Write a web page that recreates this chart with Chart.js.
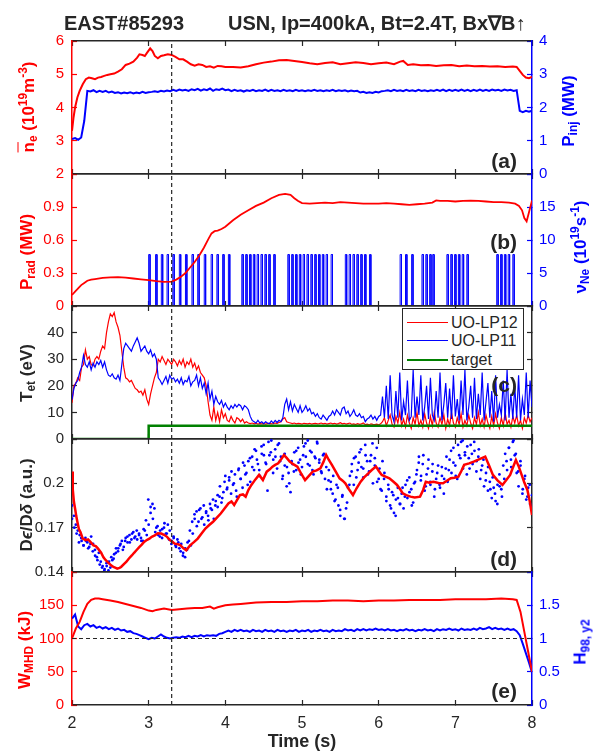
<!DOCTYPE html>
<html>
<head>
<meta charset="utf-8">
<script src="https://cdn.jsdelivr.net/npm/chart.js@4.4.0/dist/chart.umd.min.js"></script>
<style>
html,body{margin:0;padding:0;background:#fff;}
#wrap{position:relative;width:597px;height:752px;overflow:hidden;font-family:"Liberation Sans",Arial,Helvetica,sans-serif;color:#262626;}
#wrap canvas{position:absolute;left:0;top:0;}
.ttl{position:absolute;white-space:nowrap;font-weight:bold;font-size:20px;transform:translateY(-50%);line-height:1;}
.yl{position:absolute;white-space:nowrap;font-weight:bold;font-size:17px;line-height:1;transform:translate(-50%,-50%) rotate(-90deg);}
.yl sub{font-size:70%;vertical-align:-0.3em;line-height:0;}
.yl sup{font-size:70%;vertical-align:0.55em;line-height:0;}
.ol{text-decoration:overline;}
.pl{position:absolute;white-space:nowrap;font-weight:bold;font-size:21px;line-height:1;transform:translate(-100%,-50%);}
.xl{position:absolute;white-space:nowrap;font-weight:bold;font-size:18px;line-height:1;transform:translate(-50%,-50%);}
#leg{position:absolute;left:402px;top:308px;width:120px;height:60px;border:1px solid #262626;background:#fff;}
#leg .row{position:absolute;left:0;height:18px;width:120px;}
#leg .ln{position:absolute;left:4px;width:41px;top:8px;height:0;}
#leg .tx{position:absolute;left:48px;top:0;font-size:16px;line-height:18px;}
</style>
</head>
<body>
<div id="wrap">
<canvas id="ca" width="597" height="752"></canvas>
<canvas id="cb" width="597" height="752"></canvas>
<canvas id="cc" width="597" height="752"></canvas>
<canvas id="cd" width="597" height="752"></canvas>
<canvas id="ce" width="597" height="752"></canvas>

<div class="ttl" style="left:64px;top:23px;">EAST#85293</div>
<div class="ttl" style="left:228px;top:23px;">USN, Ip=400kA, Bt=2.4T, Bx∇B↑</div>

<div class="yl" style="left:28px;top:107px;color:#ff0000;"><span class="ol">n</span><sub>e</sub> (10<sup>19</sup>m<sup>-3</sup>)</div>
<div class="yl" style="left:568px;top:111px;color:#0000ff;">P<sub>inj</sub> (MW)</div>
<div class="yl" style="left:26px;top:252px;color:#ff0000;">P<sub>rad</sub> (MW)</div>
<div class="yl" style="left:580px;top:247px;color:#0000ff;">ν<sub>Ne</sub> (10<sup>19</sup>s<sup>-1</sup>)</div>
<div class="yl" style="left:26px;top:373px;color:#262626;">T<sub>et</sub> (eV)</div>
<div class="yl" style="left:26px;top:505px;color:#262626;">D<i>ϵ</i>/D<i>δ</i> (a.u.)</div>
<div class="yl" style="left:24px;top:650px;color:#ff0000;">W<sub>MHD</sub> (kJ)</div>
<div class="yl" style="left:580px;top:642px;color:#0000ff;">H<sub>98, y2</sub></div>

<div class="pl" style="left:517px;top:160px;">(a)</div>
<div class="pl" style="left:517px;top:241px;">(b)</div>
<div class="pl" style="left:517px;top:384px;">(c)</div>
<div class="pl" style="left:517px;top:558px;">(d)</div>
<div class="pl" style="left:517px;top:690px;">(e)</div>

<div class="xl" style="left:302px;top:741px;">Time (s)</div>

<div id="leg">
  <div class="row" style="top:5px;"><div class="ln" style="border-top:1.5px solid #ff0000;"></div><div class="tx">UO-LP12</div></div>
  <div class="row" style="top:23px;"><div class="ln" style="border-top:1.5px solid #0000ff;"></div><div class="tx">UO-LP11</div></div>
  <div class="row" style="top:42px;"><div class="ln" style="border-top:2.5px solid #008000;"></div><div class="tx">target</div></div>
</div>
</div>

<script>
// ---------------- DATA ----------------
const TIME_MIN = 2, TIME_MAX = 8;
const MARKER_T = 3.3;          // vertical dashed marker (s)
const H98_REF = 1;             // horizontal dashed reference

// (a) line-averaged density (1e19 m^-3)
const NE_T = [2.0,2.02,2.04,2.07,2.1,2.14,2.18,2.22,2.26,2.3,
  2.34,2.38,2.42,2.46,2.5,2.55,2.6,2.65,2.7,2.75,
  2.8,2.85,2.88,2.92,2.95,2.98,3.02,3.05,3.08,3.12,
  3.16,3.2,3.25,3.3,3.35,3.4,3.45,3.5,3.55,3.6,
  3.65,3.7,3.75,3.8,3.85,3.9,3.95,4.0,4.1,4.2,
  4.3,4.4,4.5,4.6,4.7,4.8,4.9,5.0,5.1,5.2,
  5.3,5.4,5.5,5.6,5.7,5.8,5.9,6.0,6.1,6.2,
  6.28,6.32,6.38,6.45,6.55,6.65,6.75,6.85,6.95,7.05,
  7.15,7.25,7.35,7.45,7.55,7.65,7.75,7.8,7.84,7.88,
  7.92,7.96,8.0];
const NE_V = [3.3,3.7,4.0,4.3,4.5,4.7,4.85,4.9,4.88,4.85,
  4.9,4.92,4.95,4.98,5.0,5.02,5.08,5.15,5.28,5.32,
  5.38,5.5,5.6,5.58,5.55,5.65,5.78,5.7,5.55,5.48,
  5.55,5.57,5.6,5.58,5.52,5.45,5.45,5.38,5.3,5.26,
  5.3,5.28,5.22,5.24,5.2,5.25,5.24,5.22,5.22,5.2,
  5.24,5.3,5.35,5.38,5.42,5.43,5.4,5.37,5.33,5.3,
  5.34,5.36,5.3,5.33,5.36,5.34,5.3,5.33,5.35,5.3,
  5.38,5.4,5.28,5.3,5.27,5.28,5.25,5.27,5.28,5.24,
  5.26,5.24,5.25,5.23,5.24,5.22,5.23,5.22,5.1,4.98,
  4.9,4.88,4.92];

// (a) injected power (MW), sampled evenly over 2..8 s
const PINJ_V = [1.05,1.08,1.03,1.1,1.6,2.5,2.48,2.52,2.46,2.5,
  2.47,2.5,2.45,2.48,2.44,2.46,2.42,2.45,2.43,2.46,
  2.42,2.45,2.43,2.47,2.44,2.46,2.47,2.49,2.47,2.5,
  2.48,2.51,2.49,2.53,2.5,2.54,2.51,2.53,2.5,2.55,
  2.52,2.56,2.51,2.55,2.52,2.57,2.5,2.55,2.53,2.57,
  2.52,2.54,2.49,2.53,2.5,2.52,2.48,2.52,2.5,2.53,
  2.49,2.52,2.5,2.54,2.49,2.53,2.5,2.52,2.49,2.53,
  2.5,2.52,2.49,2.53,2.5,2.52,2.49,2.52,2.5,2.53,
  2.5,2.52,2.49,2.52,2.5,2.53,2.49,2.52,2.5,2.52,
  2.48,2.51,2.49,2.5,2.45,2.47,2.44,2.46,2.44,2.47,
  2.45,2.49,2.5,2.52,2.49,2.53,2.5,2.52,2.49,2.53,
  2.5,2.52,2.49,2.53,2.5,2.52,2.49,2.52,2.5,2.53,
  2.5,2.54,2.49,2.53,2.5,2.53,2.5,2.54,2.5,2.53,
  2.49,2.53,2.5,2.54,2.5,2.53,2.5,2.54,2.51,2.53,
  2.5,2.54,2.51,2.53,2.5,2.52,1.9,1.86,1.9,1.87,
  1.9];

// (b) radiated power (MW)
const PRAD_T = [2.0,2.04,2.08,2.12,2.16,2.2,2.25,2.3,2.4,2.5,
  2.6,2.7,2.8,2.9,3.0,3.1,3.2,3.3,3.36,3.42,
  3.48,3.54,3.6,3.66,3.72,3.78,3.82,3.86,3.9,3.95,
  4.0,4.1,4.2,4.3,4.4,4.5,4.6,4.7,4.78,4.85,
  4.9,4.95,5.0,5.1,5.2,5.3,5.4,5.5,5.6,5.7,
  5.8,5.9,6.0,6.1,6.2,6.3,6.4,6.5,6.6,6.7,
  6.75,6.8,6.9,7.0,7.1,7.2,7.3,7.4,7.5,7.6,
  7.7,7.78,7.83,7.87,7.9,7.93,7.96,8.0];
const PRAD_V = [0.10,0.13,0.16,0.19,0.21,0.23,0.24,0.245,0.255,0.26,
  0.262,0.258,0.25,0.242,0.235,0.226,0.22,0.222,0.24,0.265,
  0.3,0.35,0.4,0.46,0.53,0.61,0.66,0.68,0.685,0.7,
  0.72,0.78,0.83,0.87,0.91,0.94,0.98,1.01,1.02,1.01,
  0.98,0.955,0.935,0.93,0.935,0.94,0.935,0.945,0.94,0.935,
  0.93,0.93,0.93,0.935,0.93,0.925,0.92,0.925,0.93,0.94,
  0.96,0.955,0.955,0.95,0.955,0.958,0.955,0.95,0.945,0.945,
  0.94,0.93,0.91,0.87,0.8,0.77,0.85,0.96];

// (b) Ne puffing pulses: start times (s), rate (1e19 s^-1), pulse width (s)
const NE_PULSE_T = [3.0,3.09,3.165,3.24,3.315,3.4,3.48,3.565,3.64,3.725,3.815,3.89,3.965,4.04,
  4.215,4.265,4.315,4.365,4.415,4.465,4.515,4.565,4.63,
  4.815,4.865,4.915,4.965,5.015,5.065,5.115,5.165,5.215,5.265,5.315,5.38,
  5.565,5.615,5.665,5.715,5.765,5.815,5.88,
  6.28,6.35,6.43,
  6.565,6.615,6.665,6.705,
  6.89,6.94,6.99,7.04,7.09,7.15,
  7.54,7.59,7.64,7.69,7.75];
const NE_PULSE_RATE = 7.8;
const NE_PULSE_W = 0.018;

// (c) target electron temperature (eV), sampled evenly over 2..8 s
const TET_LP12 = [13.6,20,21,23,22,27,28,33.5,30,31,
  28,27.5,30,31,30,33,35,34,40,44,
  47,46,47.5,44,42,39,33,27,23,22.5,
  21.5,22,20.5,19,18.5,17.5,18,16.5,18.5,15,
  13,17,20,23,25,30,29,31,29.5,28,
  30,29,28,30,29,27.5,29.5,28,30,27,
  29,28,30,27,28.5,26,27.5,25,24,23,
  20,14,9,7,12,7,10,6.5,11,8,
  9.5,7,6.5,8.5,7,6,8,7.5,6.5,7.5,
  6,6.5,6,5.8,6,5.7,5.9,5.6,5.8,5.7,
  5.8,5.6,5.8,5.9,5.7,5.8,6,5.9,6.2,6.5,
  7.5,8,6.5,6.2,6,5.8,6,5.7,5.9,5.8,
  5.6,5.9,5.8,5.7,5.9,5.6,5.8,5.9,5.7,5.8,
  6,5.7,5.9,5.6,5.8,6,5.7,5.9,5.6,5.8,
  6.1,5.7,5.9,5.6,5.8,6,5.5,5.7,5.4,5.8,
  5.5,5.7,6,5.4,5.6,5.3,5.7,5.5,5.4,5.6,
  5.3,5.7,6.5,8,5,7,9,5.5,4.5,8.5,
  6,10,5,7.5,4.5,9,6,4,8,5.5,
  10,5,7,4.5,9.5,6,4,8.5,5,10,
  6,4.5,8,5.5,9,4,7.5,5,10,6,
  4.5,8,5.5,9.5,4.5,7,5,9,6,4,
  8,5.5,10,5,7.5,4.5,9,6,4,8.5,
  5,9.5,6,4,8,5,10,5.5,7,4.5,
  8.5,6,9,5,7,4,8,6,9,6.5,
  8];
const TET_LP11 = [14.8,19,21,22,25,27,31.5,28,27,29,
  26,28.5,27,29,28,29.5,27,29,26,24,
  23.5,24.5,23,22.5,24,22,28,34,36,35,
  34,33,35,36.5,38,36,33,34,35,33,
  32,33.5,31,32,30,23,22,20.5,22,23.5,
  21,24,22.5,23,21.5,22.5,21,23,20.5,22,
  21.5,23.5,20,21.5,22,24,20,23,19,21,
  17,21,15,18,13,16,14,13,14.5,12,
  13.5,12,11,12.5,11.5,13,12,13,12.5,11,
  12.5,12,11,8.5,7,6.5,6,7,6,6.5,
  5.8,6.5,6,5.8,6.8,6,7,6.2,7,6.5,
  8,13,15,11,14,10.5,13,11.5,10,12.5,
  10,11,12.5,10.5,11.5,9.5,10,8.5,9.5,8,
  7.5,9,8,7,8.5,9,10.5,9,11,10,
  9,11.5,12,9.5,10.5,8.5,9.5,11,9,8.5,
  9.5,8,8.5,6.5,7.5,8,9,7.5,8.5,7,
  8.5,9,16,8,20,7.5,24,9,6.5,18,
  8,25,7,14,9,22,7,8.5,26,8,
  16,9,24,7,12,20,7.5,23,9,7,
  18,8,25,7,13,21,8,19,7.5,24,
  8.5,15,7,22,9,26,7,12,20,8,
  23,7.5,17,9,25,7,14,21,8,18,
  6.5,24,8,13,9,22,7,26,8,17,
  7.5,20,8,24,7,15,9,25,8,22,
  12];
const TARGET_T = [2, 3, 3, 8];
const TARGET_V = [0, 0, 5, 5];

// (d) D-epsilon / D-delta (a.u.): smoothed line
const DR_T = [2.0,2.01,2.025,2.04,2.055,2.07,2.09,2.11,2.14,2.18,
  2.21,2.24,2.28,2.31,2.34,2.38,2.41,2.44,2.48,2.51,
  2.54,2.57,2.59,2.62,2.64,2.68,2.71,2.74,2.78,2.81,
  2.84,2.88,2.91,2.94,2.98,3.01,3.04,3.08,3.12,3.165,
  3.2,3.24,3.28,3.31,3.34,3.38,3.415,3.45,3.49,3.54,
  3.59,3.64,3.69,3.74,3.79,3.84,3.89,3.94,3.99,4.04,
  4.08,4.115,4.15,4.19,4.23,4.265,4.3,4.34,4.39,4.44,
  4.49,4.54,4.58,4.615,4.65,4.69,4.73,4.765,4.8,4.84,
  4.89,4.94,4.99,5.04,5.09,5.14,5.19,5.24,5.28,5.315,
  5.35,5.39,5.44,5.49,5.53,5.565,5.61,5.665,5.71,5.765,
  5.81,5.865,5.91,5.965,6.0,6.04,6.09,6.14,6.19,6.24,
  6.28,6.315,6.36,6.415,6.47,6.54,6.58,6.615,6.66,6.715,
  6.78,6.84,6.89,6.94,6.99,7.04,7.08,7.115,7.18,7.24,
  7.3,7.39,7.44,7.49,7.55,7.615,7.66,7.715,7.75,7.79,
  7.83,7.865,7.9,7.94,7.97,8.0];
const DR_V = [0.208,0.196,0.1875,0.183,0.178,0.174,0.169,0.167,0.1626,0.1615,
  0.162,0.1604,0.158,0.1575,0.1558,0.153,0.15,0.148,0.146,0.1445,
  0.1434,0.1428,0.1423,0.1428,0.1434,0.1455,0.147,0.149,0.1512,0.153,
  0.1547,0.157,0.1585,0.1604,0.1618,0.1625,0.1638,0.1648,0.1662,0.166,
  0.1652,0.1638,0.1615,0.1605,0.1592,0.1588,0.158,0.1562,0.1547,0.158,
  0.1602,0.1626,0.166,0.1694,0.1718,0.174,0.1768,0.1796,0.183,0.1864,
  0.1878,0.1853,0.1885,0.192,0.1925,0.191,0.1955,0.1989,0.2025,0.2057,
  0.2022,0.2079,0.2095,0.2113,0.2125,0.2136,0.2165,0.2192,0.2172,0.2147,
  0.2128,0.2113,0.2065,0.2022,0.205,0.2079,0.2088,0.2102,0.2145,0.2192,
  0.2158,0.2125,0.208,0.2034,0.2018,0.2,0.1962,0.1921,0.1965,0.2011,
  0.204,0.2068,0.209,0.2113,0.2085,0.2057,0.2045,0.2034,0.2012,0.1989,
  0.196,0.1932,0.192,0.191,0.1905,0.191,0.1955,0.2011,0.2005,0.2011,
  0.2003,0.2,0.2018,0.2034,0.2038,0.2045,0.2085,0.2125,0.2135,0.2147,
  0.216,0.2181,0.212,0.2057,0.202,0.1989,0.202,0.2057,0.2105,0.2158,
  0.211,0.2057,0.2005,0.1955,0.188,0.1785];
// (d) raw points, two sweeps each sampled evenly over 2..8 s
const DP_V = [0.185,0.178,0.172,0.168,0.165,0.161,0.158,0.163,0.160,0.157,
  0.164,0.159,0.155,0.150,0.153,0.147,0.144,0.142,0.146,0.141,
  0.143,0.148,0.152,0.156,0.154,0.158,0.161,0.157,0.163,0.160,
  0.165,0.162,0.167,0.164,0.162,0.166,0.163,0.161,0.168,0.165,
  0.172,0.180,0.186,0.183,0.170,0.165,0.168,0.163,0.170,0.166,
  0.172,0.168,0.161,0.164,0.158,0.162,0.156,0.159,0.153,0.150,
  0.155,0.161,0.158,0.166,0.176,0.181,0.174,0.183,0.177,0.172,
  0.181,0.178,0.186,0.182,0.176,0.188,0.184,0.191,0.187,0.194,
  0.205,0.197,0.202,0.193,0.199,0.206,0.191,0.210,0.203,0.197,
  0.212,0.207,0.215,0.201,0.218,0.209,0.222,0.213,0.205,0.220,
  0.226,0.214,0.195,0.219,0.229,0.216,0.223,0.210,0.227,0.218,
  0.205,0.212,0.198,0.207,0.194,0.213,0.221,0.209,0.224,0.216,
  0.211,0.225,0.218,0.229,0.212,0.221,0.206,0.217,0.227,0.214,
  0.208,0.219,0.203,0.196,0.209,0.201,0.193,0.188,0.199,0.185,
  0.178,0.191,0.176,0.183,0.197,0.205,0.213,0.199,0.218,0.209,
  0.221,0.211,0.204,0.226,0.215,0.208,0.219,0.200,0.212,0.224,
  0.203,0.196,0.215,0.207,0.191,0.199,0.185,0.194,0.180,0.189,
  0.197,0.186,0.193,0.183,0.199,0.190,0.204,0.196,0.187,0.201,
  0.209,0.218,0.202,0.213,0.195,0.206,0.216,0.199,0.208,0.191,
  0.203,0.212,0.197,0.205,0.193,0.210,0.201,0.216,0.207,0.224,
  0.212,0.203,0.219,0.228,0.210,0.221,0.206,0.217,0.226,0.213,
  0.222,0.208,0.218,0.203,0.212,0.198,0.207,0.195,0.201,0.190,
  0.197,0.188,0.199,0.206,0.196,0.212,0.220,0.209,0.224,0.216,
  0.228,0.219,0.207,0.198,0.212,0.193,0.203,0.189,0.197,0.186,
  0.192];
const DP2_V = [0.176,0.170,0.166,0.160,0.163,0.158,0.161,0.156,0.159,0.154,
  0.151,0.148,0.145,0.143,0.141,0.144,0.147,0.150,0.149,0.153,
  0.156,0.159,0.155,0.161,0.164,0.160,0.166,0.163,0.168,0.165,
  0.161,0.169,0.175,0.189,0.184,0.176,0.167,0.171,0.164,0.169,
  0.173,0.166,0.162,0.159,0.163,0.157,0.160,0.154,0.151,0.156,
  0.160,0.168,0.174,0.179,0.171,0.182,0.176,0.185,0.180,0.175,
  0.183,0.189,0.185,0.192,0.198,0.190,0.201,0.196,0.204,0.208,
  0.200,0.195,0.209,0.203,0.214,0.206,0.199,0.217,0.211,0.223,
  0.216,0.209,0.225,0.219,0.213,0.228,0.221,0.207,0.218,0.226,
  0.215,0.203,0.220,0.211,0.200,0.215,0.208,0.222,0.214,0.206,
  0.219,0.227,0.213,0.222,0.209,0.218,0.228,0.216,0.207,0.220,
  0.211,0.202,0.196,0.205,0.189,0.197,0.182,0.192,0.176,0.187,
  0.199,0.208,0.217,0.204,0.214,0.223,0.210,0.219,0.206,0.215,
  0.227,0.217,0.201,0.210,0.195,0.203,0.188,0.196,0.183,0.192,
  0.178,0.190,0.186,0.197,0.191,0.202,0.194,0.185,0.200,0.206,
  0.214,0.205,0.219,0.198,0.210,0.201,0.213,0.196,0.207,0.199,
  0.211,0.203,0.218,0.209,0.222,0.214,0.205,0.226,0.217,0.229,
  0.219,0.225,0.210,0.220,0.228,0.215,0.223,0.209,0.216,0.202,
  0.211,0.196,0.204,0.193,0.186,0.198,0.191,0.203,0.215,0.224,
  0.211,0.229,0.220,0.208,0.215,0.196,0.205,0.191,0.199,0.184];

// (e) stored energy (kJ)
const WMHD_T = [2.0,2.05,2.1,2.15,2.2,2.25,2.3,2.35,2.4,2.5,
  2.6,2.7,2.8,2.9,3.0,3.05,3.1,3.2,3.3,3.4,
  3.5,3.6,3.7,3.8,3.85,3.9,4.0,4.1,4.2,4.4,
  4.6,4.8,5.0,5.2,5.4,5.6,5.8,6.0,6.2,6.4,
  6.6,6.8,7.0,7.2,7.4,7.6,7.75,7.8,7.85,7.9,
  7.95,8.0];
const WMHD_V = [100,115,125,140,152,158,160,160,159,157,
  155,152,149,146,142,141,143,145,143,144,
  145,146,146,148,145,147,150,151,152,154,
  155,155,156,156,157,157,156,157,157,158,
  158,158,159,159,159,160,159,158,140,110,
  80,50];
// (e) H98,y2 confinement factor, sampled evenly over 2..8 s
const H98_V = [1.30,1.36,1.18,1.14,1.20,1.22,1.18,1.20,1.16,1.18,
  1.15,1.17,1.14,1.16,1.13,1.15,1.12,1.13,1.10,1.11,
  1.08,1.07,1.05,1.03,1.01,0.99,1.01,1.00,1.03,1.06,
  1.03,1.01,1.00,1.01,1.02,1.01,1.03,1.02,1.04,1.02,
  1.04,1.03,1.05,1.03,1.05,1.04,1.05,1.04,1.07,1.08,
  1.10,1.12,1.10,1.13,1.11,1.13,1.11,1.12,1.10,1.13,
  1.11,1.12,1.10,1.13,1.11,1.12,1.10,1.13,1.11,1.12,
  1.10,1.12,1.11,1.13,1.10,1.12,1.11,1.13,1.10,1.12,
  1.11,1.13,1.11,1.12,1.10,1.13,1.11,1.12,1.11,1.14,
  1.12,1.13,1.11,1.14,1.12,1.14,1.12,1.14,1.13,1.15,
  1.13,1.14,1.12,1.14,1.12,1.13,1.11,1.13,1.12,1.14,
  1.12,1.13,1.11,1.13,1.12,1.14,1.12,1.13,1.11,1.14,
  1.12,1.14,1.13,1.15,1.13,1.14,1.12,1.15,1.13,1.14,
  1.13,1.15,1.13,1.16,1.14,1.15,1.17,1.14,1.16,1.14,
  1.15,1.13,1.15,1.13,1.14,1.11,1.05,0.92,0.78,0.64,
  0.49];

// ---------------- STYLE / HELPERS ----------------
const FONT = '"Liberation Sans", Arial, Helvetica, sans-serif';
const DARK = '#262626', RED = '#ff0000', BLUE = '#0000ff', GREEN = '#008000';
const W = 597, H = 752;
const PLOT_L = 72, PLOT_R = 532, X_AXIS_H = 47;
Chart.defaults.font.family = FONT;

function pts(ts, vs){ return vs.map((v,i)=>({x:ts[i], y:v})); }
function evenTimes(n){ return Array.from({length:n}, (_, i) => TIME_MIN + i*(TIME_MAX-TIME_MIN)/(n-1)); }
function fmt(v){ return String(parseFloat(Number(v).toFixed(3))); }
function pulseTrain(starts, rate, width){
  const out = [{x:TIME_MIN, y:0}];
  starts.forEach(t => { out.push({x:t,y:0},{x:t,y:rate},{x:t+width,y:rate},{x:t+width,y:0}); });
  out.push({x:TIME_MAX, y:0});
  return out;
}

function yScale(pos, min, max, step, color, hideTop, showLabels){
  return {
    type:'linear', position:pos, min:min, max:max,
    ticks:{ stepSize:step, autoSkip:false, display:showLabels !== false, color:color,
      font:{family:FONT, size:15}, padding: pos === 'left' ? 13 : 12,
      callback:(v,i,arr) => (hideTop && i === arr.length-1) ? '' : fmt(v) },
    grid:{ display:true, drawOnChartArea:false, drawTicks:true, tickLength:-5, tickColor:color, tickWidth:1.2 },
    border:{ display:true, color:color, width:1.5 },
    afterFit:s => { s.width = pos === 'left' ? PLOT_L : (W - PLOT_R); }
  };
}
function xScale(pos, showLabels){
  return {
    type:'linear', position:pos, min:TIME_MIN, max:TIME_MAX,
    ticks:{ stepSize:1, autoSkip:false, display:showLabels, color:DARK, font:{family:FONT, size:16},
      padding:14, maxRotation:0 },
    grid:{ display:true, drawOnChartArea:false, drawTicks:true, tickLength:-5, tickColor:DARK, tickWidth:1.2 },
    border:{ display:true, color:DARK, width:1.5 },
    afterFit:s => { s.height = showLabels ? X_AXIS_H : 0; }
  };
}
function line(data, color, width, yAxisID, extra){
  return Object.assign({ data:data, borderColor:color, backgroundColor:color, borderWidth:width,
    pointRadius:0, tension:0, fill:false, xAxisID:'x', yAxisID:yAxisID }, extra || {});
}
function dots(data, color){
  return line(data, color, 0, 'y', {showLine:false, pointRadius:1.4, pointBorderWidth:0, pointBackgroundColor:color});
}
function marker(ymin, ymax){
  return line([{x:MARKER_T,y:ymin},{x:MARKER_T,y:ymax}], DARK, 1.2, 'y', {borderDash:[4,3]});
}
function panel(id, top, padBottom, datasets, scales){
  return new Chart(document.getElementById(id), {
    type:'line',
    data:{ datasets:datasets },
    options:{
      responsive:false, animation:false, devicePixelRatio:1, events:[],
      layout:{ padding:{ top:top, bottom:padBottom, left:0, right:0 } },
      plugins:{ legend:{display:false}, tooltip:{enabled:false}, title:{display:false} },
      scales:scales
    }
  });
}

// ---------------- PANELS ----------------
// (a)
panel('ca', 41, H-174, [
  marker(2, 6),
  line(pts(NE_T, NE_V), RED, 2, 'y'),
  line(pts(evenTimes(PINJ_V.length), PINJ_V), BLUE, 2, 'y2')
], {
  x: xScale('bottom', false), xt: xScale('top', false),
  y: yScale('left', 2, 6, 1, RED, false),
  y2: yScale('right', 0, 4, 1, BLUE, false)
});

// (b)
panel('cb', 174, H-306, [
  marker(0, 1.2),
  line(pts(PRAD_T, PRAD_V), RED, 1.8, 'y'),
  line(pulseTrain(NE_PULSE_T, NE_PULSE_RATE, NE_PULSE_W), BLUE, 1, 'y2')
], {
  x: xScale('bottom', false), xt: xScale('top', false),
  y: yScale('left', 0, 1.2, 0.3, RED, true),
  y2: yScale('right', 0, 20, 5, BLUE, true)
});

// (c)
panel('cc', 306, H-439, [
  marker(0, 50),
  line(pts(TARGET_T, TARGET_V), GREEN, 2.5, 'y'),
  line(pts(evenTimes(TET_LP11.length), TET_LP11), BLUE, 1.2, 'y'),
  line(pts(evenTimes(TET_LP12.length), TET_LP12), RED, 1.2, 'y')
], {
  x: xScale('bottom', false), xt: xScale('top', false),
  y: yScale('left', 0, 50, 10, DARK, true),
  yr: yScale('right', 0, 50, 10, DARK, true, false)
});

// (d)
panel('cd', 439, H-572, [
  marker(0.14, 0.23),
  line(pts(DR_T, DR_V), RED, 2.5, 'y'),
  dots(pts(evenTimes(DP_V.length), DP_V), BLUE),
  dots(pts(evenTimes(DP2_V.length), DP2_V), BLUE)
], {
  x: xScale('bottom', false), xt: xScale('top', false),
  y: yScale('left', 0.14, 0.23, 0.03, DARK, true),
  yr: yScale('right', 0.14, 0.23, 0.03, DARK, true, false)
});

// (e)
panel('ce', 572, 0, [
  marker(0, 200),
  line([{x:TIME_MIN,y:H98_REF},{x:TIME_MAX,y:H98_REF}], DARK, 1.2, 'y2', {borderDash:[4,3]}),
  line(pts(WMHD_T, WMHD_V), RED, 2, 'y'),
  line(pts(evenTimes(H98_V.length), H98_V), BLUE, 2, 'y2')
], {
  x: xScale('bottom', true), xt: xScale('top', false),
  y: yScale('left', 0, 200, 50, RED, true),
  y2: yScale('right', 0, 2, 0.5, BLUE, true)
});
</script>
</body>
</html>
